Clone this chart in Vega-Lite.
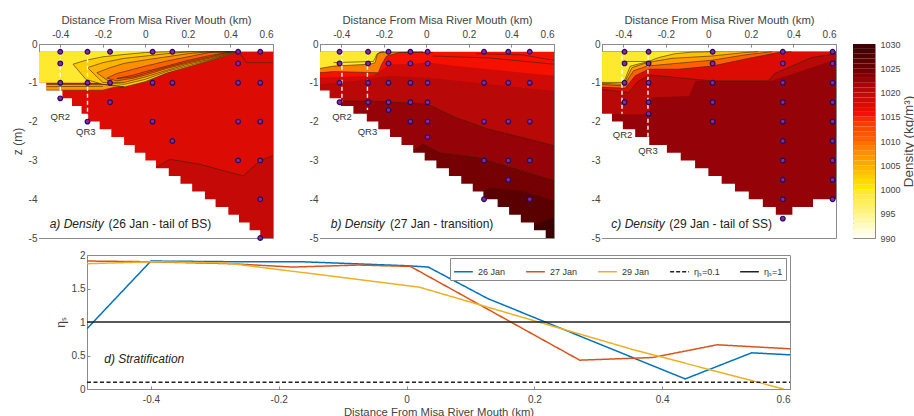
{"$schema":"https://vega.github.io/schema/vega-lite/v6.json","background":"white","padding":{"left":10,"top":13,"right":0,"bottom":0},"spacing":5,"resolve":{"scale":{"color":"independent"}},
"config":{"font":"Liberation Sans","view":{"stroke":"#8a8a8a"},"axisX":{"labelPadding":8},"axisY":{"labelPadding":5},"axis":{"grid":false,"labelFont":"Liberation Sans","titleFont":"Liberation Sans","labelColor":"#444","titleColor":"#444","labelFontSize":10,"titleFontSize":11.3,"titleFontWeight":"normal","domainColor":"#8a8a8a","tickColor":"#8a8a8a","tickSize":-3}},
"datasets":{
"bands":[
{"p":"a","b":"a0","d":1017,"c":0,"x":-0.5,"t":-0.2,"m":-5},{"p":"a","b":"a0","d":1017,"c":0,"x":0.6,"t":-0.2,"m":-5},
{"p":"a","b":"a1","d":1019,"c":1,"x":-0.1,"t":-3.4,"m":-5},{"p":"a","b":"a1","d":1019,"c":1,"x":0.05,"t":-3.18,"m":-5},{"p":"a","b":"a1","d":1019,"c":1,"x":0.116,"t":-2.97,"m":-5},{"p":"a","b":"a1","d":1019,"c":1,"x":0.256,"t":-3.1,"m":-5},{"p":"a","b":"a1","d":1019,"c":1,"x":0.46,"t":-3.4,"m":-5},{"p":"a","b":"a1","d":1019,"c":1,"x":0.54,"t":-3.0,"m":-5},{"p":"a","b":"a1","d":1019,"c":1,"x":0.6,"t":-2.88,"m":-5},
{"p":"a","b":"a2","d":1017,"c":3,"x":0.44,"t":-0.2,"m":-0.2},{"p":"a","b":"a2","d":1017,"c":3,"x":0.475,"t":-0.2,"m":-0.48},{"p":"a","b":"a2","d":1017,"c":3,"x":0.6,"t":-0.2,"m":-0.48},
{"p":"a","b":"a3","d":999,"c":0,"x":-0.5,"t":-0.2,"m":-1},{"p":"a","b":"a3","d":999,"c":0,"x":-0.1,"t":-0.2,"m":-1},{"p":"a","b":"a3","d":999,"c":0,"x":0.1,"t":-0.2,"m":-0.5},{"p":"a","b":"a3","d":999,"c":0,"x":0.2,"t":-0.2,"m":-0.2},
{"p":"a","b":"a4","d":1006,"c":2,"x":-0.466,"t":-1.04,"m":-1.19},{"p":"a","b":"a4","d":1006,"c":2,"x":-0.2,"t":-1.04,"m":-1.19},{"p":"a","b":"a4","d":1006,"c":2,"x":-0.15,"t":-1.06,"m":-1.12},{"p":"a","b":"a4","d":1006,"c":2,"x":-0.1,"t":-1.1,"m":-1.11},
{"p":"a","b":"a5","d":1006,"c":1,"x":-0.466,"t":-1.1,"m":-1.1},{"p":"a","b":"a5","d":1006,"c":1,"x":-0.2,"t":-1.09,"m":-1.09},
{"p":"a","b":"a6","d":1002,"c":2,"x":-0.34,"t":-0.52,"m":-0.52},{"p":"a","b":"a6","d":1002,"c":2,"x":-0.28,"t":-0.42,"m":-0.91},{"p":"a","b":"a6","d":1002,"c":2,"x":-0.2,"t":-0.33,"m":-1.04},{"p":"a","b":"a6","d":1002,"c":2,"x":-0.1,"t":-0.27,"m":-1.11},{"p":"a","b":"a6","d":1002,"c":2,"x":0,"t":-0.22,"m":-0.97},{"p":"a","b":"a6","d":1002,"c":2,"x":0.1,"t":-0.2,"m":-0.75},{"p":"a","b":"a6","d":1002,"c":2,"x":0.2,"t":-0.2,"m":-0.59},{"p":"a","b":"a6","d":1002,"c":2,"x":0.3,"t":-0.2,"m":-0.44},{"p":"a","b":"a6","d":1002,"c":2,"x":0.397,"t":-0.2,"m":-0.27},{"p":"a","b":"a6","d":1002,"c":2,"x":0.444,"t":-0.2,"m":-0.2},
{"p":"a","b":"a7","d":1004,"c":2,"x":-0.272,"t":-0.61,"m":-0.61},{"p":"a","b":"a7","d":1004,"c":2,"x":-0.2,"t":-0.48,"m":-0.99},{"p":"a","b":"a7","d":1004,"c":2,"x":-0.1,"t":-0.37,"m":-1.04},{"p":"a","b":"a7","d":1004,"c":2,"x":0,"t":-0.31,"m":-0.91},{"p":"a","b":"a7","d":1004,"c":2,"x":0.1,"t":-0.25,"m":-0.71},{"p":"a","b":"a7","d":1004,"c":2,"x":0.2,"t":-0.2,"m":-0.56},{"p":"a","b":"a7","d":1004,"c":2,"x":0.3,"t":-0.2,"m":-0.42},{"p":"a","b":"a7","d":1004,"c":2,"x":0.397,"t":-0.2,"m":-0.25},{"p":"a","b":"a7","d":1004,"c":2,"x":0.436,"t":-0.2,"m":-0.2},
{"p":"a","b":"a8","d":1007,"c":2,"x":-0.228,"t":-0.74,"m":-0.74},{"p":"a","b":"a8","d":1007,"c":2,"x":-0.166,"t":-0.61,"m":-0.99},{"p":"a","b":"a8","d":1007,"c":2,"x":-0.1,"t":-0.5,"m":-0.99},{"p":"a","b":"a8","d":1007,"c":2,"x":0,"t":-0.41,"m":-0.85},{"p":"a","b":"a8","d":1007,"c":2,"x":0.1,"t":-0.33,"m":-0.68},{"p":"a","b":"a8","d":1007,"c":2,"x":0.2,"t":-0.25,"m":-0.52},{"p":"a","b":"a8","d":1007,"c":2,"x":0.3,"t":-0.2,"m":-0.4},{"p":"a","b":"a8","d":1007,"c":2,"x":0.381,"t":-0.2,"m":-0.27},{"p":"a","b":"a8","d":1007,"c":2,"x":0.428,"t":-0.2,"m":-0.2},
{"p":"a","b":"a9","d":1010,"c":2,"x":-0.181,"t":-0.88,"m":-0.88},{"p":"a","b":"a9","d":1010,"c":2,"x":-0.134,"t":-0.76,"m":-0.95},{"p":"a","b":"a9","d":1010,"c":2,"x":-0.056,"t":-0.65,"m":-0.88},{"p":"a","b":"a9","d":1010,"c":2,"x":0,"t":-0.57,"m":-0.8},{"p":"a","b":"a9","d":1010,"c":2,"x":0.1,"t":-0.44,"m":-0.63},{"p":"a","b":"a9","d":1010,"c":2,"x":0.2,"t":-0.33,"m":-0.49},{"p":"a","b":"a9","d":1010,"c":2,"x":0.3,"t":-0.22,"m":-0.37},{"p":"a","b":"a9","d":1010,"c":2,"x":0.381,"t":-0.2,"m":-0.25},{"p":"a","b":"a9","d":1010,"c":2,"x":0.4125,"t":-0.2,"m":-0.2},
{"p":"a","b":"a10","d":1013,"c":2,"x":-0.134,"t":-0.89,"m":-0.89},{"p":"a","b":"a10","d":1013,"c":2,"x":-0.056,"t":-0.8,"m":-0.85},{"p":"a","b":"a10","d":1013,"c":2,"x":0,"t":-0.71,"m":-0.76},{"p":"a","b":"a10","d":1013,"c":2,"x":0.1,"t":-0.57,"m":-0.6},{"p":"a","b":"a10","d":1013,"c":2,"x":0.2,"t":-0.42,"m":-0.46},{"p":"a","b":"a10","d":1013,"c":2,"x":0.3,"t":-0.3,"m":-0.34},{"p":"a","b":"a10","d":1013,"c":2,"x":0.4,"t":-0.2,"m":-0.2},

{"p":"b","b":"b0","d":1015,"c":0,"x":-0.5,"t":-0.2,"m":-5},{"p":"b","b":"b0","d":1015,"c":0,"x":0.6,"t":-0.2,"m":-5},
{"p":"b","b":"b1","d":1018,"c":0,"x":-0.5,"t":-0.87,"m":-5},{"p":"b","b":"b1","d":1018,"c":0,"x":-0.249,"t":-0.82,"m":-5},{"p":"b","b":"b1","d":1018,"c":0,"x":-0.171,"t":-0.52,"m":-5},{"p":"b","b":"b1","d":1018,"c":0,"x":-0.075,"t":-0.52,"m":-5},{"p":"b","b":"b1","d":1018,"c":0,"x":0.006,"t":-0.48,"m":-5},{"p":"b","b":"b1","d":1018,"c":0,"x":0.14,"t":-0.57,"m":-5},{"p":"b","b":"b1","d":1018,"c":0,"x":0.296,"t":-0.65,"m":-5},{"p":"b","b":"b1","d":1018,"c":0,"x":0.452,"t":-0.74,"m":-5},{"p":"b","b":"b1","d":1018,"c":0,"x":0.6,"t":-0.82,"m":-5},
{"p":"b","b":"b2","d":1020,"c":0,"x":-0.5,"t":-1.04,"m":-5},{"p":"b","b":"b2","d":1020,"c":0,"x":-0.327,"t":-0.95,"m":-5},{"p":"b","b":"b2","d":1020,"c":0,"x":-0.171,"t":-0.82,"m":-5},{"p":"b","b":"b2","d":1020,"c":0,"x":0.006,"t":-0.87,"m":-5},{"p":"b","b":"b2","d":1020,"c":0,"x":0.296,"t":-1.04,"m":-5},{"p":"b","b":"b2","d":1020,"c":0,"x":0.6,"t":-1.21,"m":-5},
{"p":"b","b":"b3","d":1022,"c":1,"x":-0.5,"t":-1.47,"m":-5},{"p":"b","b":"b3","d":1022,"c":1,"x":-0.249,"t":-1.47,"m":-5},{"p":"b","b":"b3","d":1022,"c":1,"x":0.006,"t":-1.55,"m":-5},{"p":"b","b":"b3","d":1022,"c":1,"x":0.14,"t":-1.9,"m":-5},{"p":"b","b":"b3","d":1022,"c":1,"x":0.296,"t":-2.2,"m":-5},{"p":"b","b":"b3","d":1022,"c":1,"x":0.452,"t":-2.41,"m":-5},{"p":"b","b":"b3","d":1022,"c":1,"x":0.6,"t":-2.62,"m":-5},
{"p":"b","b":"b4","d":1024,"c":1,"x":-0.5,"t":-4.38,"m":-5},{"p":"b","b":"b4","d":1024,"c":1,"x":-0.171,"t":-3.18,"m":-5},{"p":"b","b":"b4","d":1024,"c":1,"x":-0.016,"t":-2.58,"m":-5},{"p":"b","b":"b4","d":1024,"c":1,"x":0.062,"t":-2.8,"m":-5},{"p":"b","b":"b4","d":1024,"c":1,"x":0.234,"t":-2.92,"m":-5},{"p":"b","b":"b4","d":1024,"c":1,"x":0.452,"t":-3.27,"m":-5},{"p":"b","b":"b4","d":1024,"c":1,"x":0.6,"t":-3.52,"m":-5},
{"p":"b","b":"b5","d":1026,"c":0,"x":0.062,"t":-4.38,"m":-5},{"p":"b","b":"b5","d":1026,"c":0,"x":0.296,"t":-3.7,"m":-5},{"p":"b","b":"b5","d":1026,"c":0,"x":0.452,"t":-3.78,"m":-5},{"p":"b","b":"b5","d":1026,"c":0,"x":0.6,"t":-4.04,"m":-5},
{"p":"b","b":"b6","d":1029,"c":0,"x":0.452,"t":-4.81,"m":-5},{"p":"b","b":"b6","d":1029,"c":0,"x":0.561,"t":-4.55,"m":-5},{"p":"b","b":"b6","d":1029,"c":0,"x":0.6,"t":-4.47,"m":-5},
{"p":"b","b":"b7","d":1008,"c":3,"x":-0.5,"t":-0.2,"m":-0.74},{"p":"b","b":"b7","d":1008,"c":3,"x":-0.436,"t":-0.2,"m":-0.71},{"p":"b","b":"b7","d":1008,"c":3,"x":-0.226,"t":-0.2,"m":-0.74},{"p":"b","b":"b7","d":1008,"c":3,"x":-0.21,"t":-0.2,"m":-0.52},{"p":"b","b":"b7","d":1008,"c":3,"x":-0.187,"t":-0.2,"m":-0.31},{"p":"b","b":"b7","d":1008,"c":3,"x":-0.125,"t":-0.2,"m":-0.22},{"p":"b","b":"b7","d":1008,"c":3,"x":-0.016,"t":-0.2,"m":-0.2},
{"p":"b","b":"b8","d":999,"c":3,"x":-0.5,"t":-0.2,"m":-0.63},{"p":"b","b":"b8","d":999,"c":3,"x":-0.436,"t":-0.2,"m":-0.57},{"p":"b","b":"b8","d":999,"c":3,"x":-0.265,"t":-0.2,"m":-0.52},{"p":"b","b":"b8","d":999,"c":3,"x":-0.241,"t":-0.2,"m":-0.48},{"p":"b","b":"b8","d":999,"c":3,"x":-0.231,"t":-0.2,"m":-0.27},{"p":"b","b":"b8","d":999,"c":3,"x":-0.218,"t":-0.2,"m":-0.21},{"p":"b","b":"b8","d":999,"c":3,"x":-0.2,"t":-0.2,"m":-0.2},
{"p":"b","b":"b9","d":1015,"c":1,"x":-0.436,"t":-0.48,"m":-0.48},{"p":"b","b":"b9","d":1015,"c":1,"x":-0.249,"t":-0.45,"m":-0.45},{"p":"b","b":"b9","d":1015,"c":1,"x":-0.231,"t":-0.25,"m":-0.25},{"p":"b","b":"b9","d":1015,"c":1,"x":-0.21,"t":-0.21,"m":-0.21},{"p":"b","b":"b9","d":1015,"c":1,"x":0.03,"t":-0.22,"m":-0.22},
{"p":"b","b":"b10","d":1015,"c":1,"x":0.03,"t":-0.31,"m":-0.31},{"p":"b","b":"b10","d":1015,"c":1,"x":0.296,"t":-0.36,"m":-0.36},{"p":"b","b":"b10","d":1015,"c":1,"x":0.6,"t":-0.52,"m":-0.52},
{"p":"b","b":"b11","d":1015,"c":1,"x":0.234,"t":-0.25,"m":-0.25},{"p":"b","b":"b11","d":1015,"c":1,"x":0.452,"t":-0.28,"m":-0.28},{"p":"b","b":"b11","d":1015,"c":1,"x":0.6,"t":-0.42,"m":-0.42},

{"p":"c","b":"c0","d":1022,"c":0,"x":-0.5,"t":-0.2,"m":-5},{"p":"c","b":"c0","d":1022,"c":0,"x":0.6,"t":-0.2,"m":-5},
{"p":"c","b":"c1","d":1020,"c":0,"x":-0.5,"t":-0.2,"m":-1.81},{"p":"c","b":"c1","d":1020,"c":0,"x":-0.278,"t":-0.2,"m":-1.81},{"p":"c","b":"c1","d":1020,"c":0,"x":-0.266,"t":-0.2,"m":-1.38},{"p":"c","b":"c1","d":1020,"c":0,"x":-0.09,"t":-0.2,"m":-1.34},{"p":"c","b":"c1","d":1020,"c":0,"x":-0.06,"t":-0.2,"m":-0.95},{"p":"c","b":"c1","d":1020,"c":0,"x":0.3,"t":-0.2,"m":-0.95},{"p":"c","b":"c1","d":1020,"c":0,"x":0.6,"t":-0.2,"m":-0.4},
{"p":"c","b":"c2","d":1017,"c":3,"x":-0.5,"t":-0.2,"m":-1.17},{"p":"c","b":"c2","d":1017,"c":3,"x":-0.375,"t":-0.2,"m":-1.25},{"p":"c","b":"c2","d":1017,"c":3,"x":-0.328,"t":-0.2,"m":-0.95},{"p":"c","b":"c2","d":1017,"c":3,"x":-0.273,"t":-0.2,"m":-0.8},{"p":"c","b":"c2","d":1017,"c":3,"x":0.016,"t":-0.2,"m":-0.95},{"p":"c","b":"c2","d":1017,"c":3,"x":0.281,"t":-0.2,"m":-0.95},{"p":"c","b":"c2","d":1017,"c":3,"x":0.3125,"t":-0.2,"m":-0.76},{"p":"c","b":"c2","d":1017,"c":3,"x":0.484,"t":-0.2,"m":-0.35},{"p":"c","b":"c2","d":1017,"c":3,"x":0.6,"t":-0.2,"m":-0.25},
{"p":"c","b":"c3","d":1010,"c":3,"x":-0.5,"t":-0.2,"m":-1.11},{"p":"c","b":"c3","d":1010,"c":3,"x":-0.391,"t":-0.2,"m":-1.14},{"p":"c","b":"c3","d":1010,"c":3,"x":-0.344,"t":-0.2,"m":-0.82},{"p":"c","b":"c3","d":1010,"c":3,"x":-0.281,"t":-0.2,"m":-0.65},{"p":"c","b":"c3","d":1010,"c":3,"x":-0.141,"t":-0.2,"m":-0.65},{"p":"c","b":"c3","d":1010,"c":3,"x":0.016,"t":-0.2,"m":-0.57},{"p":"c","b":"c3","d":1010,"c":3,"x":0.172,"t":-0.2,"m":-0.39},{"p":"c","b":"c3","d":1010,"c":3,"x":0.328,"t":-0.2,"m":-0.22},{"p":"c","b":"c3","d":1010,"c":3,"x":0.39,"t":-0.2,"m":-0.2},
{"p":"c","b":"c4","d":1006,"c":3,"x":-0.5,"t":-0.2,"m":-1.04},{"p":"c","b":"c4","d":1006,"c":3,"x":-0.398,"t":-0.2,"m":-1.08},{"p":"c","b":"c4","d":1006,"c":3,"x":-0.352,"t":-0.2,"m":-0.69},{"p":"c","b":"c4","d":1006,"c":3,"x":-0.289,"t":-0.2,"m":-0.57},{"p":"c","b":"c4","d":1006,"c":3,"x":-0.172,"t":-0.2,"m":-0.51},{"p":"c","b":"c4","d":1006,"c":3,"x":0.016,"t":-0.2,"m":-0.42},{"p":"c","b":"c4","d":1006,"c":3,"x":0.172,"t":-0.2,"m":-0.28},{"p":"c","b":"c4","d":1006,"c":3,"x":0.297,"t":-0.2,"m":-0.2},
{"p":"c","b":"c5","d":1003,"c":3,"x":-0.5,"t":-0.2,"m":-1.01},{"p":"c","b":"c5","d":1003,"c":3,"x":-0.398,"t":-0.2,"m":-1.04},{"p":"c","b":"c5","d":1003,"c":3,"x":-0.359,"t":-0.2,"m":-0.61},{"p":"c","b":"c5","d":1003,"c":3,"x":-0.289,"t":-0.2,"m":-0.48},{"p":"c","b":"c5","d":1003,"c":3,"x":-0.172,"t":-0.2,"m":-0.37},{"p":"c","b":"c5","d":1003,"c":3,"x":0.016,"t":-0.2,"m":-0.31},{"p":"c","b":"c5","d":1003,"c":3,"x":0.172,"t":-0.2,"m":-0.22},{"p":"c","b":"c5","d":1003,"c":3,"x":0.234,"t":-0.2,"m":-0.2},
{"p":"c","b":"c6","d":999,"c":3,"x":-0.5,"t":-0.2,"m":-0.99},{"p":"c","b":"c6","d":999,"c":3,"x":-0.398,"t":-0.2,"m":-0.99},{"p":"c","b":"c6","d":999,"c":3,"x":-0.367,"t":-0.2,"m":-0.57},{"p":"c","b":"c6","d":999,"c":3,"x":-0.281,"t":-0.2,"m":-0.45},{"p":"c","b":"c6","d":999,"c":3,"x":-0.234,"t":-0.2,"m":-0.35},{"p":"c","b":"c6","d":999,"c":3,"x":-0.156,"t":-0.2,"m":-0.25},{"p":"c","b":"c6","d":999,"c":3,"x":-0.078,"t":-0.2,"m":-0.21},{"p":"c","b":"c6","d":999,"c":3,"x":0.016,"t":-0.2,"m":-0.2},
{"p":"c","b":"c7","d":1022,"c":1,"x":-0.398,"t":-0.45,"m":-0.45},{"p":"c","b":"c7","d":1022,"c":1,"x":-0.281,"t":-0.45,"m":-0.45}
],
"bathy":[
{"p":"a","x":-0.5,"z":-1.0},{"p":"a","x":-0.466,"z":-1.2},{"p":"a","x":-0.39,"z":-1.4},{"p":"a","x":-0.345,"z":-1.6},{"p":"a","x":-0.3,"z":-1.8},{"p":"a","x":-0.27,"z":-2.0},{"p":"a","x":-0.215,"z":-2.2},{"p":"a","x":-0.16,"z":-2.4},{"p":"a","x":-0.1,"z":-2.6},{"p":"a","x":-0.05,"z":-2.8},{"p":"a","x":0.0,"z":-3.0},{"p":"a","x":0.05,"z":-3.2},{"p":"a","x":0.11,"z":-3.4},{"p":"a","x":0.165,"z":-3.6},{"p":"a","x":0.22,"z":-3.8},{"p":"a","x":0.28,"z":-4.0},{"p":"a","x":0.33,"z":-4.2},{"p":"a","x":0.39,"z":-4.4},{"p":"a","x":0.44,"z":-4.6},{"p":"a","x":0.49,"z":-4.8},{"p":"a","x":0.54,"z":-5.0},{"p":"a","x":0.6,"z":-5.0},
{"p":"b","x":-0.5,"z":-1.2},{"p":"b","x":-0.455,"z":-1.4},{"p":"b","x":-0.402,"z":-1.6},{"p":"b","x":-0.343,"z":-1.8},{"p":"b","x":-0.28,"z":-2.0},{"p":"b","x":-0.226,"z":-2.2},{"p":"b","x":-0.171,"z":-2.4},{"p":"b","x":-0.117,"z":-2.6},{"p":"b","x":-0.062,"z":-2.8},{"p":"b","x":-0.008,"z":-3.0},{"p":"b","x":0.047,"z":-3.2},{"p":"b","x":0.106,"z":-3.4},{"p":"b","x":0.164,"z":-3.6},{"p":"b","x":0.218,"z":-3.8},{"p":"b","x":0.268,"z":-4.0},{"p":"b","x":0.335,"z":-4.2},{"p":"b","x":0.389,"z":-4.4},{"p":"b","x":0.444,"z":-4.6},{"p":"b","x":0.506,"z":-4.8},{"p":"b","x":0.561,"z":-5.0},{"p":"b","x":0.6,"z":-5.0},
{"p":"c","x":-0.5,"z":-1.8},{"p":"c","x":-0.453,"z":-2.0},{"p":"c","x":-0.402,"z":-2.2},{"p":"c","x":-0.344,"z":-2.4},{"p":"c","x":-0.278,"z":-2.6},{"p":"c","x":-0.195,"z":-2.8},{"p":"c","x":-0.13,"z":-3.0},{"p":"c","x":-0.0625,"z":-3.2},{"p":"c","x":0.0,"z":-3.4},{"p":"c","x":0.0625,"z":-3.6},{"p":"c","x":0.125,"z":-3.8},{"p":"c","x":0.19,"z":-4.0},{"p":"c","x":0.256,"z":-4.2},{"p":"c","x":0.317,"z":-4.4},{"p":"c","x":0.395,"z":-4.2},{"p":"c","x":0.492,"z":-4.0},{"p":"c","x":0.6,"z":-4.0}
],
"st":[
{"p":"a","x":-0.4,"z":-0.2},{"p":"a","x":-0.4,"z":-0.5},{"p":"a","x":-0.4,"z":-1},{"p":"a","x":-0.4,"z":-1.4},{"p":"a","x":-0.272,"z":-0.2},{"p":"a","x":-0.272,"z":-1},{"p":"a","x":-0.272,"z":-2},{"p":"a","x":-0.166,"z":-0.2},{"p":"a","x":-0.166,"z":-1},{"p":"a","x":-0.166,"z":-1.5},{"p":"a","x":0.034,"z":-0.2},{"p":"a","x":0.034,"z":-1},{"p":"a","x":0.034,"z":-2},{"p":"a","x":0.127,"z":-0.2},{"p":"a","x":0.127,"z":-1},{"p":"a","x":0.127,"z":-2.5},{"p":"a","x":0.436,"z":-0.2},{"p":"a","x":0.436,"z":-0.5},{"p":"a","x":0.436,"z":-1},{"p":"a","x":0.436,"z":-2},{"p":"a","x":0.436,"z":-3},{"p":"a","x":0.54,"z":-0.2},{"p":"a","x":0.54,"z":-1},{"p":"a","x":0.54,"z":-2},{"p":"a","x":0.54,"z":-3},{"p":"a","x":0.54,"z":-4},{"p":"a","x":0.54,"z":-5},
{"p":"b","x":-0.408,"z":-0.2},{"p":"b","x":-0.408,"z":-0.5},{"p":"b","x":-0.408,"z":-1},{"p":"b","x":-0.408,"z":-1.5},{"p":"b","x":-0.274,"z":-0.2},{"p":"b","x":-0.274,"z":-0.5},{"p":"b","x":-0.274,"z":-1},{"p":"b","x":-0.274,"z":-1.5},{"p":"b","x":-0.178,"z":-0.2},{"p":"b","x":-0.178,"z":-0.5},{"p":"b","x":-0.178,"z":-1},{"p":"b","x":-0.178,"z":-1.5},{"p":"b","x":-0.178,"z":-1.7},{"p":"b","x":-0.075,"z":-0.2},{"p":"b","x":-0.075,"z":-0.5},{"p":"b","x":-0.075,"z":-1},{"p":"b","x":-0.075,"z":-1.5},{"p":"b","x":-0.075,"z":-2},{"p":"b","x":0.006,"z":-0.2},{"p":"b","x":0.006,"z":-0.5},{"p":"b","x":0.006,"z":-1},{"p":"b","x":0.006,"z":-1.5},{"p":"b","x":0.006,"z":-2},{"p":"b","x":0.006,"z":-2.4},{"p":"b","x":0.271,"z":-0.2},{"p":"b","x":0.271,"z":-1},{"p":"b","x":0.271,"z":-2},{"p":"b","x":0.271,"z":-3},{"p":"b","x":0.271,"z":-4},{"p":"b","x":0.385,"z":-0.2},{"p":"b","x":0.385,"z":-1},{"p":"b","x":0.385,"z":-2},{"p":"b","x":0.385,"z":-3},{"p":"b","x":0.385,"z":-3.5},{"p":"b","x":0.486,"z":-0.2},{"p":"b","x":0.486,"z":-1},{"p":"b","x":0.486,"z":-2},{"p":"b","x":0.486,"z":-3},{"p":"b","x":0.486,"z":-4},
{"p":"c","x":-0.394,"z":-0.2},{"p":"c","x":-0.394,"z":-0.5},{"p":"c","x":-0.394,"z":-1},{"p":"c","x":-0.394,"z":-1.5},{"p":"c","x":-0.281,"z":-0.2},{"p":"c","x":-0.281,"z":-0.5},{"p":"c","x":-0.281,"z":-1},{"p":"c","x":-0.281,"z":-1.5},{"p":"c","x":-0.281,"z":-1.8},{"p":"c","x":0.02,"z":-0.2},{"p":"c","x":0.02,"z":-0.5},{"p":"c","x":0.02,"z":-1},{"p":"c","x":0.02,"z":-1.5},{"p":"c","x":0.02,"z":-2},{"p":"c","x":0.35,"z":-0.2},{"p":"c","x":0.35,"z":-0.5},{"p":"c","x":0.35,"z":-1},{"p":"c","x":0.35,"z":-1.5},{"p":"c","x":0.35,"z":-2},{"p":"c","x":0.35,"z":-2.5},{"p":"c","x":0.35,"z":-3},{"p":"c","x":0.35,"z":-3.5},{"p":"c","x":0.35,"z":-4},{"p":"c","x":0.35,"z":-4.5},{"p":"c","x":0.584,"z":-0.2},{"p":"c","x":0.584,"z":-0.5},{"p":"c","x":0.584,"z":-1},{"p":"c","x":0.584,"z":-1.5},{"p":"c","x":0.584,"z":-2},{"p":"c","x":0.584,"z":-2.5},{"p":"c","x":0.584,"z":-3},{"p":"c","x":0.584,"z":-3.5},{"p":"c","x":0.584,"z":-4}
],
"qr":[
{"p":"a","x":-0.4,"t":-0.2,"m":-1.4},{"p":"a","x":-0.272,"t":-0.2,"m":-2},
{"p":"b","x":-0.397,"t":-0.2,"m":-1.5},{"p":"b","x":-0.277,"t":-0.2,"m":-1.7},
{"p":"c","x":-0.406,"t":-0.3,"m":-1.8},{"p":"c","x":-0.284,"t":-0.3,"m":-2.4}
],
"txt":[
{"p":"a","k":"q","x":-0.4,"z":-1.88,"s":"QR2"},{"p":"a","k":"q","x":-0.28,"z":-2.26,"s":"QR3"},{"p":"a","k":"i","x":-0.45,"z":-4.64,"s":"a) Density"},{"p":"a","k":"n","x":-0.173,"z":-4.64,"s":"(26 Jan - tail of BS)"},
{"p":"b","k":"q","x":-0.397,"z":-1.87,"s":"QR2"},{"p":"b","k":"q","x":-0.277,"z":-2.26,"s":"QR3"},{"p":"b","k":"i","x":-0.449,"z":-4.64,"s":"b) Density"},{"p":"b","k":"n","x":-0.171,"z":-4.64,"s":"(27 Jan - transition)"},
{"p":"c","k":"q","x":-0.403,"z":-2.35,"s":"QR2"},{"p":"c","k":"q","x":-0.284,"z":-2.77,"s":"QR3"},{"p":"c","k":"i","x":-0.456,"z":-4.64,"s":"c) Density"},{"p":"c","k":"n","x":-0.184,"z":-4.64,"s":"(29 Jan - tail of SS)"}
],
"series":[
{"s":"26 Jan","x":-0.5,"y":0.9},{"s":"26 Jan","x":-0.4,"y":1.91},{"s":"26 Jan","x":-0.272,"y":1.9},{"s":"26 Jan","x":-0.166,"y":1.9},{"s":"26 Jan","x":0.0,"y":1.84},{"s":"26 Jan","x":0.034,"y":1.82},{"s":"26 Jan","x":0.127,"y":1.35},{"s":"26 Jan","x":0.436,"y":0.15},{"s":"26 Jan","x":0.54,"y":0.54},{"s":"26 Jan","x":0.6,"y":0.51},
{"s":"27 Jan","x":-0.5,"y":1.91},{"s":"27 Jan","x":-0.408,"y":1.9},{"s":"27 Jan","x":-0.274,"y":1.87},{"s":"27 Jan","x":-0.178,"y":1.82},{"s":"27 Jan","x":-0.075,"y":1.85},{"s":"27 Jan","x":0.006,"y":1.83},{"s":"27 Jan","x":0.271,"y":0.43},{"s":"27 Jan","x":0.385,"y":0.47},{"s":"27 Jan","x":0.486,"y":0.66},{"s":"27 Jan","x":0.6,"y":0.6},
{"s":"29 Jan","x":-0.5,"y":1.87},{"s":"29 Jan","x":-0.394,"y":1.9},{"s":"29 Jan","x":-0.281,"y":1.88},{"s":"29 Jan","x":0.02,"y":1.52},{"s":"29 Jan","x":0.35,"y":0.6},{"s":"29 Jan","x":0.59,"y":0.0},
{"s":"ηₛ=0.1","x":-0.5,"y":0.1},{"s":"ηₛ=0.1","x":0.6,"y":0.1},
{"s":"ηₛ=1","x":-0.5,"y":1},{"s":"ηₛ=1","x":0.6,"y":1}
],
"dlab":[{"x":-0.473,"y":0.45,"s":"d) Stratification"}],
"cbar":[{"v":990,"w":991},{"v":991,"w":992},{"v":992,"w":993},{"v":993,"w":994},{"v":994,"w":995},{"v":995,"w":996},{"v":996,"w":997},{"v":997,"w":998},{"v":998,"w":999},{"v":999,"w":1000},{"v":1000,"w":1001},{"v":1001,"w":1002},{"v":1002,"w":1003},{"v":1003,"w":1004},{"v":1004,"w":1005},{"v":1005,"w":1006},{"v":1006,"w":1007},{"v":1007,"w":1008},{"v":1008,"w":1009},{"v":1009,"w":1010},{"v":1010,"w":1011},{"v":1011,"w":1012},{"v":1012,"w":1013},{"v":1013,"w":1014},{"v":1014,"w":1015},{"v":1015,"w":1016},{"v":1016,"w":1017},{"v":1017,"w":1018},{"v":1018,"w":1019},{"v":1019,"w":1020},{"v":1020,"w":1021},{"v":1021,"w":1022},{"v":1022,"w":1023},{"v":1023,"w":1024},{"v":1024,"w":1025},{"v":1025,"w":1026},{"v":1026,"w":1027},{"v":1027,"w":1028},{"v":1028,"w":1029},{"v":1029,"w":1030}]
},
"vconcat":[
{"hconcat":[
{"width":234,"height":194,"data":{"name":"bands"},"encoding":{"x":{"field":"x","type":"quantitative","scale":{"domain":[-0.5,0.6],"nice":false,"zero":false},"axis":{"orient":"top","values":[-0.4,-0.2,0,0.2,0.4,0.6],"labelExpr":"replace(format(datum.value,'~g'),'−','-')","title":"Distance From Misa River Mouth (km)"}},"y":{"field":"z","type":"quantitative","scale":{"domain":[-5,0],"nice":false,"zero":false},"axis":{"values":[0,-1,-2,-3,-4,-5],"labelExpr":"replace(format(datum.value,'~g'),'−','-')","title":"z (m)","titleFontSize":12}}},
"layer":[
{"transform":[{"filter":"datum.p=='a'"}],"mark":{"type":"area","clip":true},"encoding":{"y":{"field":"t","type":"quantitative","stack":null},"y2":{"field":"m"},"color":{"field":"d","type":"quantitative","legend":null,"scale":{"domain":[990,995,1000,1005,1010,1015,1020,1025,1030],"range":["#fffff0","#fff27a","#ffe600","#ffa800","#ff6000","#f51000","#b80808","#640000","#000000"]}},"detail":{"field":"b"}}},
{"transform":[{"filter":"datum.p=='a' && (datum.c==1||datum.c==2)"}],"mark":{"type":"line","stroke":"#3a2400","strokeWidth":0.7,"opacity":0.85,"clip":true},"encoding":{"y":{"field":"t","type":"quantitative"},"detail":{"field":"b"}}},
{"transform":[{"filter":"datum.p=='a' && (datum.c==2||datum.c==3)"}],"mark":{"type":"line","stroke":"#3a2400","strokeWidth":0.7,"opacity":0.85,"clip":true},"encoding":{"y":{"field":"m","type":"quantitative"},"detail":{"field":"b"}}},
{"data":{"name":"bathy"},"transform":[{"filter":"datum.p=='a'"}],"mark":{"type":"area","interpolate":"step-after","fill":"white"},"encoding":{"y":{"field":"z","type":"quantitative","stack":null},"y2":{"datum":-5}}},
{"data":{"name":"qr"},"transform":[{"filter":"datum.p=='a'"}],"mark":{"type":"rule","stroke":"white","strokeWidth":1.4,"strokeDash":[4,3]},"encoding":{"y":{"field":"t","type":"quantitative"},"y2":{"field":"m"}}},
{"data":{"name":"st"},"transform":[{"filter":"datum.p=='a'"}],"mark":{"type":"point","filled":true,"fill":"#a01fa0","stroke":"#1a1060","strokeWidth":1.2,"size":22,"opacity":1}},
{"data":{"name":"txt"},"transform":[{"filter":"datum.p=='a' && datum.k=='q'"}],"mark":{"type":"text","fontSize":9.5,"fill":"#333"},"encoding":{"text":{"field":"s"}}},
{"data":{"name":"txt"},"transform":[{"filter":"datum.p=='a' && datum.k=='i'"}],"mark":{"type":"text","fontSize":12,"fontStyle":"italic","align":"left","fill":"#222"},"encoding":{"text":{"field":"s"}}},
{"data":{"name":"txt"},"transform":[{"filter":"datum.p=='a' && datum.k=='n'"}],"mark":{"type":"text","fontSize":12,"align":"left","fill":"#222"},"encoding":{"text":{"field":"s"}}}
]},
{"width":13,"height":194,"view":{"stroke":null},"data":{"values":[{"n":0}]},"mark":{"type":"point","opacity":0},"encoding":{}},
{"width":234,"height":194,"data":{"name":"bands"},"encoding":{"x":{"field":"x","type":"quantitative","scale":{"domain":[-0.5,0.6],"nice":false,"zero":false},"axis":{"orient":"top","values":[-0.4,-0.2,0,0.2,0.4,0.6],"labelExpr":"replace(format(datum.value,'~g'),'−','-')","title":"Distance From Misa River Mouth (km)"}},"y":{"field":"z","type":"quantitative","scale":{"domain":[-5,0],"nice":false,"zero":false},"axis":{"values":[0,-1,-2,-3,-4,-5],"labelExpr":"replace(format(datum.value,'~g'),'−','-')","title":null}}},
"layer":[
{"transform":[{"filter":"datum.p=='b'"}],"mark":{"type":"area","clip":true},"encoding":{"y":{"field":"t","type":"quantitative","stack":null},"y2":{"field":"m"},"color":{"field":"d","type":"quantitative","legend":null,"scale":{"domain":[990,995,1000,1005,1010,1015,1020,1025,1030],"range":["#fffff0","#fff27a","#ffe600","#ffa800","#ff6000","#f51000","#b80808","#640000","#000000"]}},"detail":{"field":"b"}}},
{"transform":[{"filter":"datum.p=='b' && (datum.c==1||datum.c==2)"}],"mark":{"type":"line","stroke":"#3a2400","strokeWidth":0.7,"opacity":0.85,"clip":true},"encoding":{"y":{"field":"t","type":"quantitative"},"detail":{"field":"b"}}},
{"transform":[{"filter":"datum.p=='b' && (datum.c==2||datum.c==3)"}],"mark":{"type":"line","stroke":"#3a2400","strokeWidth":0.7,"opacity":0.85,"clip":true},"encoding":{"y":{"field":"m","type":"quantitative"},"detail":{"field":"b"}}},
{"data":{"name":"bathy"},"transform":[{"filter":"datum.p=='b'"}],"mark":{"type":"area","interpolate":"step-after","fill":"white"},"encoding":{"y":{"field":"z","type":"quantitative","stack":null},"y2":{"datum":-5}}},
{"data":{"name":"qr"},"transform":[{"filter":"datum.p=='b'"}],"mark":{"type":"rule","stroke":"white","strokeWidth":1.4,"strokeDash":[4,3]},"encoding":{"y":{"field":"t","type":"quantitative"},"y2":{"field":"m"}}},
{"data":{"name":"st"},"transform":[{"filter":"datum.p=='b'"}],"mark":{"type":"point","filled":true,"fill":"#a01fa0","stroke":"#1a1060","strokeWidth":1.2,"size":22,"opacity":1}},
{"data":{"name":"txt"},"transform":[{"filter":"datum.p=='b' && datum.k=='q'"}],"mark":{"type":"text","fontSize":9.5,"fill":"#333"},"encoding":{"text":{"field":"s"}}},
{"data":{"name":"txt"},"transform":[{"filter":"datum.p=='b' && datum.k=='i'"}],"mark":{"type":"text","fontSize":12,"fontStyle":"italic","align":"left","fill":"#222"},"encoding":{"text":{"field":"s"}}},
{"data":{"name":"txt"},"transform":[{"filter":"datum.p=='b' && datum.k=='n'"}],"mark":{"type":"text","fontSize":12,"align":"left","fill":"#222"},"encoding":{"text":{"field":"s"}}}
]},
{"width":14,"height":194,"view":{"stroke":null},"data":{"values":[{"n":0}]},"mark":{"type":"point","opacity":0},"encoding":{}},
{"width":234,"height":194,"data":{"name":"bands"},"encoding":{"x":{"field":"x","type":"quantitative","scale":{"domain":[-0.5,0.6],"nice":false,"zero":false},"axis":{"orient":"top","values":[-0.4,-0.2,0,0.2,0.4,0.6],"labelExpr":"replace(format(datum.value,'~g'),'−','-')","title":"Distance From Misa River Mouth (km)"}},"y":{"field":"z","type":"quantitative","scale":{"domain":[-5,0],"nice":false,"zero":false},"axis":{"values":[0,-1,-2,-3,-4,-5],"labelExpr":"replace(format(datum.value,'~g'),'−','-')","title":null}}},
"layer":[
{"transform":[{"filter":"datum.p=='c'"}],"mark":{"type":"area","clip":true},"encoding":{"y":{"field":"t","type":"quantitative","stack":null},"y2":{"field":"m"},"color":{"field":"d","type":"quantitative","legend":null,"scale":{"domain":[990,995,1000,1005,1010,1015,1020,1025,1030],"range":["#fffff0","#fff27a","#ffe600","#ffa800","#ff6000","#f51000","#b80808","#640000","#000000"]}},"detail":{"field":"b"}}},
{"transform":[{"filter":"datum.p=='c' && (datum.c==1||datum.c==2)"}],"mark":{"type":"line","stroke":"#3a2400","strokeWidth":0.7,"opacity":0.85,"clip":true},"encoding":{"y":{"field":"t","type":"quantitative"},"detail":{"field":"b"}}},
{"transform":[{"filter":"datum.p=='c' && (datum.c==2||datum.c==3)"}],"mark":{"type":"line","stroke":"#3a2400","strokeWidth":0.7,"opacity":0.85,"clip":true},"encoding":{"y":{"field":"m","type":"quantitative"},"detail":{"field":"b"}}},
{"data":{"name":"bathy"},"transform":[{"filter":"datum.p=='c'"}],"mark":{"type":"area","interpolate":"step-after","fill":"white"},"encoding":{"y":{"field":"z","type":"quantitative","stack":null},"y2":{"datum":-5}}},
{"data":{"name":"qr"},"transform":[{"filter":"datum.p=='c'"}],"mark":{"type":"rule","stroke":"white","strokeWidth":1.4,"strokeDash":[4,3]},"encoding":{"y":{"field":"t","type":"quantitative"},"y2":{"field":"m"}}},
{"data":{"name":"st"},"transform":[{"filter":"datum.p=='c'"}],"mark":{"type":"point","filled":true,"fill":"#a01fa0","stroke":"#1a1060","strokeWidth":1.2,"size":22,"opacity":1}},
{"data":{"name":"txt"},"transform":[{"filter":"datum.p=='c' && datum.k=='q'"}],"mark":{"type":"text","fontSize":9.5,"fill":"#333"},"encoding":{"text":{"field":"s"}}},
{"data":{"name":"txt"},"transform":[{"filter":"datum.p=='c' && datum.k=='i'"}],"mark":{"type":"text","fontSize":12,"fontStyle":"italic","align":"left","fill":"#222"},"encoding":{"text":{"field":"s"}}},
{"data":{"name":"txt"},"transform":[{"filter":"datum.p=='c' && datum.k=='n'"}],"mark":{"type":"text","fontSize":12,"align":"left","fill":"#222"},"encoding":{"text":{"field":"s"}}}
]},
{"width":22,"height":194,"data":{"name":"cbar"},"mark":{"type":"rect","stroke":null},"encoding":{"y":{"field":"v","type":"quantitative","scale":{"domain":[990,1030],"nice":false,"zero":false},"axis":{"orient":"right","values":[990,995,1000,1005,1010,1015,1020,1025,1030],"format":"d","tickSize":0,"labelFontSize":9,"title":"Density (kg/m³)","titleAngle":-90,"titleFontSize":13.5,"titlePadding":15}},"y2":{"field":"w"},"color":{"field":"v","type":"quantitative","legend":null,"scale":{"domain":[990,995,1000,1005,1010,1015,1020,1025,1030],"range":["#fffff0","#fff27a","#ffe600","#ffa800","#ff6000","#f51000","#b80808","#640000","#000000"]}}}}
],"spacing":17,"bounds":"flush","resolve":{"scale":{"color":"independent"}}},
{"hconcat":[
{"width":48,"height":134,"view":{"stroke":null},"data":{"values":[{"n":0}]},"mark":{"type":"point","opacity":0},"encoding":{}},
{"width":703,"height":134,"encoding":{"x":{"field":"x","type":"quantitative","scale":{"domain":[-0.5,0.6],"nice":false,"zero":false},"axis":{"values":[-0.4,-0.2,0,0.2,0.4,0.6],"labelExpr":"replace(format(datum.value,'~g'),'−','-')","title":"Distance From Misa River Mouth (km)","titlePadding":2}},"y":{"field":"y","type":"quantitative","scale":{"domain":[0,2],"nice":false},"axis":{"values":[0,0.5,1,1.5,2],"format":"~g","title":"ηₛ","titleFontSize":12,"titlePadding":4}}},
"layer":[
{"data":{"name":"series"},"mark":{"type":"line","clip":true},"encoding":{"color":{"field":"s","type":"nominal","sort":null,"scale":{"domain":["26 Jan","27 Jan","29 Jan","ηₛ=0.1","ηₛ=1"],"range":["#0072BD","#D95319","#EDB120","#222222","#222222"]},"legend":{"orient":"none","legendX":363,"legendY":3,"direction":"horizontal","columns":5,"title":null,"fillColor":"white","strokeColor":"#888","padding":3,"labelFontSize":9,"labelColor":"#333","symbolStrokeWidth":1.6,"symbolSize":350,"columnPadding":16,"symbolType":"stroke","encode":{"symbols":{"update":{"strokeDash":{"signal":"datum.value=='ηₛ=0.1' ? [4,2] : [1,0]"}}}}}},"strokeDash":{"field":"s","type":"nominal","sort":null,"legend":null,"scale":{"domain":["26 Jan","27 Jan","29 Jan","ηₛ=0.1","ηₛ=1"],"range":[[1,0],[1,0],[1,0],[4,2.5],[1,0]]}},"strokeWidth":{"field":"s","type":"nominal","legend":null,"scale":{"domain":["26 Jan","27 Jan","29 Jan","ηₛ=0.1","ηₛ=1"],"range":[1.5,1.5,1.5,1.6,2]}}}},
{"data":{"name":"dlab"},"mark":{"type":"text","fontSize":12,"fontStyle":"italic","align":"left","fill":"#222"},"encoding":{"text":{"field":"s"}}}
]}
],"spacing":0,"bounds":"flush","resolve":{"scale":{"color":"independent"}}}
]}
